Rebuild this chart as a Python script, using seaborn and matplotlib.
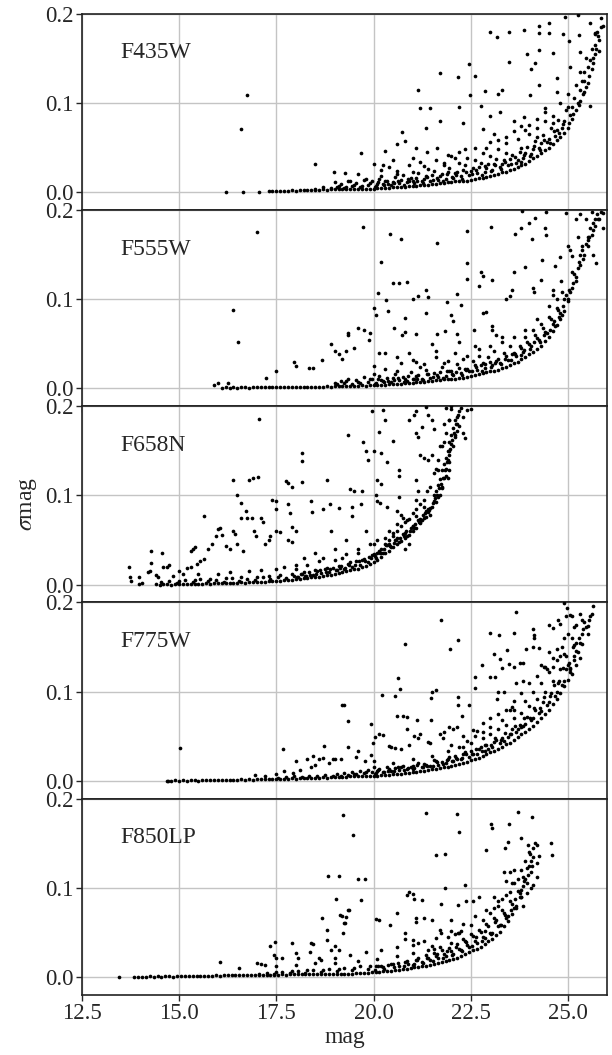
import matplotlib
matplotlib.use("Agg")
import matplotlib.pyplot as plt
import seaborn as sns
import pandas as pd

# ---------------- data ----------------
filters = ["F435W", "F555W", "F658N", "F775W", "F850LP"]
x_ticks = [12.5, 15.0, 17.5, 20.0, 22.5, 25.0]
y_ticks = [0.0, 0.1, 0.2]

f435w_points = [
    (17.3,.001),(17.4,.001),(17.5,.001),(17.6,.001),(17.7,.001),(17.8,.001),(17.9,.002),(18.0,.001),(18.1,.002),(18.2,.002),
    (18.3,.002),(18.4,.002),(18.5,.002),(18.6,.002),(18.7,.003),(18.8,.002),(18.9,.003),(19.0,.003),(19.1,.003),(19.2,.003),
    (19.3,.003),(19.4,.004),(19.5,.003),(19.6,.004),(19.7,.004),(19.8,.004),(19.9,.004),(20.0,.004),(20.1,.005),(20.2,.005),
    (20.3,.005),(20.4,.005),(20.5,.006),(20.6,.006),(20.7,.006),(20.8,.006),(20.9,.007),(21.0,.007),(21.1,.007),(21.2,.008),
    (21.3,.008),(21.4,.008),(21.5,.009),(21.6,.009),(21.7,.010),(21.8,.010),(21.9,.011),(22.0,.011),(22.1,.012),(22.2,.012),
    (22.3,.013),(22.4,.013),(22.5,.014),(22.6,.015),(22.7,.016),(22.8,.016),(22.9,.017),(23.0,.018),(23.1,.019),(23.2,.020),
    (23.3,.022),(23.4,.023),(23.5,.025),(23.6,.026),(23.7,.028),(23.8,.030),(23.9,.032),(24.0,.035),(24.1,.038),(24.2,.041),
    (24.3,.044),(24.4,.047),(24.5,.050),(24.6,.054),(24.7,.058),(24.8,.062),(24.9,.066),(25.0,.072),(25.1,.082),(25.2,.092),
    (25.3,.102),(25.4,.112),(25.5,.122),(25.6,.138),(25.7,.155),(25.8,.170),(25.9,.186),
    (18.5,.004),(18.7,.006),(18.9,.005),(19.1,.007),(19.3,.006),(19.5,.008),(19.7,.007),(19.9,.010),(20.1,.009),(20.3,.012),
    (20.5,.011),(20.7,.014),(20.9,.013),(21.1,.016),(21.3,.015),(21.5,.019),(21.7,.018),(21.9,.022),(22.1,.021),(22.3,.025),
    (22.5,.024),(22.7,.028),(22.9,.027),(23.1,.032),(23.3,.031),(23.5,.037),(23.7,.036),(23.9,.044),(24.1,.048),(24.3,.055),
    (24.5,.060),(24.7,.070),(24.9,.080),(25.1,.095),(25.3,.115),(25.5,.140),(25.7,.165),
    (19.0,.011),(19.4,.013),(19.8,.015),(20.2,.018),(20.6,.020),(21.0,.023),(21.4,.026),(21.8,.030),(22.2,.033),(22.6,.036),
    (23.0,.040),(23.4,.044),(23.8,.050),(24.2,.062),(24.6,.078),(25.0,.095),(25.4,.125),
    (24.0,.075),(24.2,.082),(24.4,.090),(24.6,.085),(24.8,.100),(25.0,.110),(25.2,.120),(25.3,.135),(25.45,.150),(25.6,.160),
    (25.7,.178),(25.85,.195),
]
f435w_band = [
    (19.05,.006),(19.15,.009),(19.25,.005),(19.35,.012),(19.45,.007),(19.55,.010),(19.65,.006),(19.75,.014),(19.85,.008),(19.95,.012),
    (20.05,.007),(20.15,.015),(20.25,.009),(20.35,.013),(20.45,.008),(20.55,.017),(20.65,.010),(20.75,.019),(20.85,.011),(20.95,.016),
    (21.05,.010),(21.15,.021),(21.25,.012),(21.35,.018),(21.45,.013),(21.55,.024),(21.65,.014),(21.75,.020),(21.85,.015),(21.95,.027),
    (22.05,.016),(22.15,.023),(22.25,.018),(22.35,.030),(22.45,.019),(22.55,.027),(22.65,.021),(22.75,.033),(22.85,.023),(22.95,.031),
    (23.05,.025),(23.15,.037),(23.25,.028),(23.35,.036),(23.45,.030),(23.55,.042),(23.65,.033),(23.75,.045),(23.85,.038),(23.95,.051),
    (24.05,.043),(24.15,.057),(24.25,.049),(24.35,.064),(24.45,.056),(24.55,.072),(24.65,.063),(24.75,.081),(24.85,.072),(24.95,.092),
    (25.05,.086),(25.15,.105),(25.25,.100),(25.35,.125),(25.45,.118),(25.55,.148),(25.65,.145),(25.75,.180),(25.8,.158),
    (20.2,.025),(20.4,.028),(20.6,.024),(20.9,.030),(21.2,.034),(21.3,.029),(21.6,.036),(21.8,.033),(22.0,.040),(22.2,.045),
    (22.4,.038),(22.6,.050),(22.8,.044),(23.0,.056),(23.2,.048),(23.4,.062),(23.6,.068),(23.8,.074),(24.0,.065),(24.2,.072),
    (24.4,.080),
    (20.025,.006),(20.275,.008),(20.525,.010),(20.775,.008),(21.025,.012),(21.275,.010),(21.525,.014),(21.775,.013),(22.025,.017),
    (22.275,.015),(22.525,.020),(22.775,.019),(23.025,.024),(23.275,.026),(23.525,.031),(23.775,.034),(24.025,.040),(24.275,.047),
    (24.525,.055),(24.775,.066),(25.025,.078),(25.275,.098),(25.525,.130),(25.775,.175),
    (20.125,.011),(20.375,.009),(20.625,.013),(20.875,.015),(21.125,.012),(21.375,.017),(21.625,.016),(21.875,.020),(22.125,.019),
    (22.375,.022),(22.625,.025),(22.875,.029),(23.125,.030),(23.375,.034),(23.625,.039),(23.875,.042),(24.125,.052),(24.375,.058),
    (24.625,.068),(24.875,.076),(25.125,.088),(25.375,.110),(25.625,.150),
]
f435w_outliers = [
    (16.2,0.0),(16.65,0.0),(16.6,0.071),(16.75,0.109),(17.05,0.0),(18.5,0.031),(18.97,0.022),(19.27,0.021),(19.6,0.02),
    (19.67,0.044),(20.0,0.032),(20.3,0.046),(20.25,0.03),(20.6,0.054),(20.72,0.067),(20.8,0.057),(21.08,0.05),(21.15,0.114),
    (21.2,0.094),(21.35,0.072),(21.45,0.094),(21.37,0.045),(21.64,0.049),(21.7,0.08),(21.71,0.134),(22.18,0.129),(22.2,0.095),
    (22.3,0.078),(22.45,0.144),(22.49,0.109),(22.6,0.13),(22.75,0.097),(22.8,0.071),(22.87,0.113),(23.0,0.18),(23.0,0.085),
    (23.17,0.174),(23.2,0.11),(23.2,0.058),(23.3,0.115),(23.47,0.179),(23.47,0.146),(23.6,0.08),(23.87,0.182),(23.87,0.084),
    (23.94,0.155),(24.02,0.109),(24.04,0.138),(24.15,0.145),(24.25,0.186),(24.24,0.178),(24.25,0.159),(24.25,0.12),(24.4,0.094),
    (24.5,0.19),(24.5,0.178),(24.6,0.156),(24.7,0.128),(24.7,0.112),(24.86,0.177),(24.92,0.196),(25.03,0.169),(25.04,0.14),
    (25.25,0.198),(25.27,0.176),(25.3,0.157),(25.4,0.135),(25.57,0.19),(25.57,0.097),(25.7,0.177),(25.72,0.16),(25.85,0.185),
    (21.9,0.042),(22.1,0.038),(22.9,0.05),(23.1,0.065),(23.4,0.055),(23.7,0.06),(23.9,0.07),(21.0,0.038),(20.5,0.036),
    (22.35,0.048),(23.25,0.09),
]

f555w_points = [
    (16.1,.000),(16.2,.001),(16.3,.000),(16.4,.001),(16.5,.000),(16.6,.001),(16.7,.001),(16.8,.000),(16.9,.001),(17.0,.001),
    (17.1,.001),(17.2,.001),(17.3,.001),(17.4,.001),(17.5,.001),(17.6,.001),(17.7,.002),(17.8,.001),(17.9,.002),(18.0,.002),
    (18.1,.002),(18.2,.002),(18.3,.002),(18.4,.002),(18.5,.002),(18.6,.002),(18.7,.002),(18.8,.003),(18.9,.002),(19.0,.003),
    (19.1,.003),(19.2,.003),(19.3,.003),(19.4,.003),(19.5,.003),(19.6,.003),(19.7,.004),(19.8,.003),(19.9,.004),(20.0,.004),
    (20.1,.004),(20.2,.004),(20.3,.004),(20.4,.005),(20.5,.005),(20.6,.005),(20.7,.005),(20.8,.006),(20.9,.006),(21.0,.006),
    (21.1,.007),(21.2,.007),(21.3,.007),(21.4,.008),(21.5,.008),(21.6,.009),(21.7,.009),(21.8,.010),(21.9,.010),(22.0,.011),
    (22.1,.011),(22.2,.012),(22.3,.012),(22.4,.013),(22.5,.014),(22.6,.015),(22.7,.016),(22.8,.017),(22.9,.018),(23.0,.019),
    (23.1,.020),(23.2,.021),(23.3,.023),(23.4,.024),(23.5,.026),(23.6,.028),(23.7,.030),(23.8,.033),(23.9,.035),(24.0,.038),
    (24.1,.041),(24.2,.044),(24.3,.048),(24.4,.053),(24.5,.058),(24.6,.064),(24.7,.071),(24.8,.078),(24.9,.087),(25.0,.098),
    (25.1,.112),(25.2,.125),(25.3,.138),(25.4,.150),(25.5,.160),(25.6,.172),(25.7,.182),(25.8,.190),(25.9,.197),
    (19.0,.006),(19.3,.008),(19.6,.007),(19.9,.010),(20.2,.009),(20.5,.012),(20.8,.011),(21.1,.014),(21.4,.016),(21.7,.018),
    (22.0,.020),(22.2,.023),(22.4,.022),(22.6,.026),(22.8,.028),(23.0,.030),(23.2,.033),(23.4,.036),(23.6,.040),(23.8,.045),
    (24.0,.050),(24.2,.056),(24.4,.063),(24.6,.072),(24.8,.085),(25.0,.100),(25.2,.120),
    (20.0,.016),(20.6,.020),(21.2,.024),(21.8,.028),(22.3,.033),(22.7,.036),(23.1,.042),(23.5,.048),(23.9,.058),(24.1,.065),
    (24.3,.072),(24.5,.080),(24.7,.090),(24.9,.100),(25.1,.130),(25.3,.150),(25.5,.170),(25.7,.190),
]
f555w_band = [
    (19.05,.005),(19.15,.008),(19.25,.006),(19.35,.011),(19.45,.005),(19.55,.009),(19.65,.006),(19.75,.013),(19.85,.007),(19.95,.011),
    (20.05,.006),(20.15,.014),(20.25,.008),(20.35,.012),(20.45,.007),(20.55,.016),(20.65,.009),(20.75,.013),(20.85,.008),(20.95,.018),
    (21.05,.010),(21.15,.015),(21.25,.011),(21.35,.021),(21.45,.012),(21.55,.017),(21.65,.013),(21.75,.024),(21.85,.014),(21.95,.019),
    (22.05,.015),(22.15,.027),(22.25,.017),(22.35,.022),(22.45,.019),(22.55,.031),(22.65,.021),(22.75,.026),(22.85,.023),(22.95,.035),
    (23.05,.026),(23.15,.031),(23.25,.029),(23.35,.040),(23.45,.032),(23.55,.038),(23.65,.036),(23.75,.047),(23.85,.041),(23.95,.052),
    (24.05,.047),(24.15,.060),(24.25,.054),(24.35,.068),(24.45,.062),(24.55,.078),(24.65,.070),(24.75,.088),(24.85,.082),(24.95,.105),
    (25.05,.108),(25.15,.128),(25.25,.135),(25.35,.155),(25.45,.162),(25.55,.180),(25.65,.185),(25.75,.195),
    (20.0,.025),(20.3,.022),(20.7,.028),(21.0,.032),(21.3,.027),(21.6,.035),(21.9,.031),(22.1,.040),(22.4,.036),(22.7,.044),
    (23.0,.048),(23.3,.052),(23.6,.058),(23.9,.066),(24.2,.078),(24.5,.092),(24.7,.100),
    (20.025,.005),(20.275,.007),(20.525,.009),(20.775,.007),(21.025,.010),(21.275,.009),(21.525,.013),(21.775,.012),(22.025,.016),
    (22.275,.015),(22.525,.019),(22.775,.020),(23.025,.024),(23.275,.027),(23.525,.032),(23.775,.037),(24.025,.044),(24.275,.052),
    (24.525,.066),(24.775,.080),(25.025,.110),(25.275,.142),(25.525,.170),(25.775,.190),
    (20.125,.010),(20.375,.008),(20.625,.012),(20.875,.014),(21.125,.011),(21.375,.016),(21.625,.015),(21.875,.019),(22.125,.018),
    (22.375,.021),(22.625,.024),(22.875,.027),(23.125,.029),(23.375,.033),(23.625,.038),(23.875,.043),(24.125,.052),(24.375,.060),
    (24.625,.075),(24.875,.092),(25.125,.118),(25.375,.145),(25.625,.178),
]
f555w_outliers = [
    (15.9,0.004),(16.0,0.006),(16.25,0.006),(16.4,0.088),(16.52,0.052),(17.0,0.175),(17.24,0.012),(17.5,0.02),(17.95,0.03),
    (18.0,0.025),(18.35,0.023),(18.45,0.023),(18.67,0.032),(18.9,0.05),(19.0,0.042),(19.1,0.038),(19.2,0.033),(19.3,0.042),
    (19.35,0.06),(19.33,0.062),(19.5,0.045),(19.6,0.068),(19.72,0.181),(19.75,0.066),(19.87,0.054),(19.9,0.062),(20.0,0.09),
    (20.05,0.082),(20.12,0.107),(20.15,0.04),(20.2,0.142),(20.3,0.04),(20.32,0.099),(20.36,0.087),(20.43,0.173),(20.5,0.118),
    (20.53,0.068),(20.6,0.035),(20.65,0.118),(20.7,0.167),(20.73,0.06),(20.8,0.079),(20.8,0.063),(20.85,0.119),(20.9,0.04),
    (21.0,0.1),(21.1,0.061),(21.1,0.03),(21.15,0.104),(21.35,0.11),(21.35,0.084),(21.4,0.102),(21.5,0.05),(21.6,0.042),
    (21.63,0.061),(21.64,0.163),(21.84,0.064),(21.88,0.097),(22.0,0.082),(22.05,0.076),(22.14,0.106),(22.14,0.061),(22.2,0.052),
    (22.24,0.093),(22.4,0.14),(22.41,0.176),(22.4,0.123),(22.57,0.066),(22.6,0.047),(22.72,0.115),(22.77,0.13),(22.8,0.126),
    (22.8,0.084),(22.9,0.086),(23.02,0.181),(23.04,0.122),(23.04,0.07),(23.05,0.065),(23.15,0.06),(23.3,0.058),(23.4,0.1),
    (23.5,0.103),(23.55,0.11),(23.61,0.13),(23.64,0.173),(23.8,0.18),(23.81,0.199),(23.88,0.136),(24.0,0.185),(24.08,0.168),
    (24.1,0.113),(24.12,0.108),(24.14,0.191),(24.3,0.122),(24.32,0.144),(24.4,0.18),(24.43,0.198),(24.42,0.172),(24.6,0.11),
    (24.62,0.105),(24.67,0.137),(24.78,0.147),(24.82,0.12),(24.85,0.108),(24.95,0.197),(25.0,0.16),(25.05,0.155),(25.1,0.148),
    (25.2,0.19),(25.25,0.17),(25.3,0.195),(25.35,0.16),(25.45,0.19),(25.5,0.166),(25.6,0.198),(25.65,0.15),(25.72,0.141),
    (25.85,0.198),(25.9,0.18),
]

f658n_points = [
    (14.4,.001),(14.5,.000),(14.6,.001),(14.7,.001),(14.8,.000),(14.9,.001),(15.0,.001),(15.1,.001),(15.2,.001),(15.3,.001),
    (15.4,.001),(15.5,.001),(15.6,.001),(15.7,.002),(15.8,.001),(15.9,.002),(16.0,.002),(16.1,.002),(16.2,.002),(16.3,.002),
    (16.4,.002),(16.5,.002),(16.6,.003),(16.7,.002),(16.8,.003),(16.9,.003),(17.0,.003),(17.1,.003),(17.2,.003),(17.3,.004),
    (17.4,.004),(17.5,.004),(17.6,.004),(17.7,.005),(17.8,.005),(17.9,.005),(18.0,.006),(18.1,.006),(18.2,.007),(18.3,.007),
    (18.4,.008),(18.5,.008),(18.6,.009),(18.7,.010),(18.8,.011),(18.9,.011),(19.0,.012),(19.1,.013),(19.2,.014),(19.3,.015),
    (19.4,.016),(19.5,.017),(19.6,.018),(19.7,.020),(19.8,.021),(19.9,.023),(20.0,.025),(20.1,.028),(20.2,.031),(20.3,.035),
    (20.4,.038),(20.5,.042),(20.6,.045),(20.7,.049),(20.8,.052),(20.9,.056),(21.0,.060),(21.1,.064),(21.2,.069),(21.3,.075),
    (21.4,.081),(21.5,.087),(21.6,.093),(21.7,.100),(21.75,.110),(21.8,.120),(21.85,.130),(21.9,.140),(21.95,.150),(22.0,.158),
    (22.1,.168),(22.2,.178),(22.3,.188),(22.4,.196),
    (15.0,.004),(15.4,.005),(15.8,.006),(16.2,.007),(16.6,.008),(17.0,.008),(17.3,.010),(17.6,.011),(17.9,.012),(18.2,.014),
    (18.5,.016),(18.8,.019),(19.1,.021),(19.4,.025),(19.7,.028),(20.0,.034),(20.2,.040),(20.4,.046),(20.6,.052),(20.8,.058),
    (21.0,.066),(21.2,.074),(21.4,.085),(21.55,.100),(21.65,.112),(21.75,.128),(21.85,.142),(21.95,.160),(22.05,.176),(22.15,.188),
    (16.0,.012),(16.8,.015),(17.5,.018),(18.0,.022),(18.6,.026),(19.2,.030),(19.6,.036),(20.0,.045),(20.3,.052),(20.5,.058),
    (20.7,.066),(20.9,.074),(21.1,.085),(21.3,.095),(21.45,.110),(21.55,.125),(21.65,.140),(21.75,.155),(21.85,.170),(21.95,.185),
    (22.0,.197),
]
f658n_band = [
    (14.55,.003),(14.75,.004),(14.95,.002),(15.15,.005),(15.35,.003),(15.55,.006),(15.75,.004),(15.95,.005),(16.15,.003),(16.35,.007),
    (16.55,.004),(16.75,.006),(16.95,.005),(17.15,.008),(17.35,.006),(17.55,.009),(17.75,.007),(17.95,.010),
    (18.05,.009),(18.15,.012),(18.25,.010),(18.35,.014),(18.45,.011),(18.55,.015),(18.65,.013),(18.75,.017),(18.85,.014),(18.95,.019),
    (19.05,.016),(19.15,.021),(19.25,.018),(19.35,.023),(19.45,.020),(19.55,.026),(19.65,.022),(19.75,.029),(19.85,.025),(19.95,.033),
    (20.05,.030),(20.15,.038),(20.25,.036),(20.35,.044),(20.45,.042),(20.55,.050),(20.65,.048),(20.75,.057),(20.85,.055),(20.95,.064),
    (21.05,.063),(21.15,.072),(21.25,.073),(21.35,.082),(21.45,.086),(21.55,.094),(21.6,.105),(21.7,.118),(21.8,.135),(21.9,.150),
    (22.0,.168),(22.1,.185),(22.2,.195),(21.65,.098),(21.75,.108),(21.85,.122),(21.95,.138),(22.05,.155),(22.15,.172),
    (18.0,.018),(18.3,.022),(18.7,.030),(19.0,.028),(19.3,.034),(19.6,.040),(19.9,.045),(20.1,.050),(20.4,.060),(20.6,.068),
    (20.8,.070),(21.0,.080),(15.5,.012),(16.3,.014),(17.1,.016),(17.7,.020),
    (18.025,.008),(18.275,.010),(18.525,.012),(18.775,.014),(19.025,.016),(19.275,.019),(19.525,.022),(19.775,.026),(19.925,.030),
    (20.025,.032),(20.175,.036),(20.275,.040),(20.425,.043),(20.525,.047),(20.675,.052),(20.775,.054),(20.925,.060),(21.025,.066),
    (21.175,.070),(21.275,.078),(21.425,.084),(21.525,.092),(21.625,.100),(21.725,.113),(21.825,.128),(21.925,.145),(22.025,.162),
    (22.125,.180),
    (18.125,.012),(18.375,.011),(18.625,.016),(18.875,.017),(19.125,.019),(19.375,.022),(19.625,.027),(19.875,.031),(20.075,.036),
    (20.325,.044),(20.575,.050),(20.825,.060),(21.075,.068),(21.325,.080),(21.575,.097),(21.675,.108),(21.775,.120),(21.875,.138),
    (21.975,.152),(22.075,.170),(22.175,.190),
]
f658n_outliers = [
    (13.72,0.02),(13.74,0.008),(13.76,0.004),(13.96,0.009),(13.98,0.001),(14.04,0.002),(14.2,0.014),(14.25,0.015),(14.27,0.024),
    (14.28,0.038),(14.4,0.011),(14.45,0.009),(14.56,0.036),(14.6,0.02),(14.7,0.02),(14.75,0.022),(14.85,0.01),(15.0,0.015),
    (15.1,0.012),(15.2,0.019),(15.3,0.038),(15.35,0.04),(15.4,0.042),(15.3,0.02),(15.45,0.023),(15.55,0.027),(15.65,0.029),
    (15.64,0.077),(15.75,0.04),(15.85,0.046),(15.95,0.055),(16.0,0.062),(16.05,0.064),(16.1,0.056),(16.2,0.043),(16.3,0.04),
    (16.38,0.117),(16.4,0.06),(16.45,0.057),(16.5,0.1),(16.5,0.045),(16.6,0.092),(16.6,0.075),(16.65,0.038),(16.72,0.083),
    (16.75,0.075),(16.8,0.117),(16.9,0.119),(16.87,0.075),(16.93,0.06),(16.97,0.055),(17.04,0.121),(17.05,0.186),(17.1,0.075),
    (17.15,0.07),(17.2,0.045),(17.3,0.05),(17.35,0.055),(17.4,0.095),(17.5,0.094),(17.5,0.085),(17.5,0.06),(17.6,0.059),
    (17.75,0.116),(17.8,0.114),(17.9,0.11),(17.8,0.09),(17.85,0.08),(17.9,0.065),(18.0,0.06),(17.8,0.05),(17.9,0.048),
    (18.15,0.139),(18.15,0.115),(18.17,0.148),(18.4,0.094),(18.42,0.081),(18.7,0.085),(18.8,0.117),(18.88,0.09),(19.1,0.086),
    (19.33,0.168),(19.4,0.107),(19.5,0.105),(19.44,0.087),(19.44,0.077),(19.68,0.09),(19.7,0.105),(19.74,0.16),(19.8,0.15),
    (19.85,0.14),(19.95,0.195),(20.0,0.15),(20.05,0.1),(20.1,0.094),(20.1,0.117),(20.14,0.171),(20.2,0.148),(20.17,0.092),
    (20.2,0.113),(20.25,0.196),(20.3,0.185),(20.34,0.087),(20.35,0.138),(20.5,0.161),(20.6,0.083),(20.65,0.128),(20.65,0.122),
    (20.65,0.098),(20.7,0.078),(20.75,0.075),(20.85,0.072),(20.9,0.184),(21.05,0.19),(21.1,0.195),(21.1,0.17),(21.15,0.165),
    (21.1,0.117),(21.15,0.105),(21.1,0.095),(21.2,0.09),(21.3,0.087),(21.2,0.145),(21.3,0.142),(21.4,0.14),(21.5,0.145),
    (21.25,0.177),(21.35,0.199),(21.4,0.19),(21.5,0.185),(21.55,0.175),(21.6,0.13),(21.65,0.128),(21.7,0.155),(21.8,0.16),
    (21.8,0.18),(21.85,0.198),(21.95,0.185),(22.0,0.2),(22.1,0.165),(22.15,0.18),(22.25,0.198),(22.3,0.17),(22.35,0.164),
    (22.5,0.197),(21.9,0.12),(21.95,0.128),(21.37,0.105),(21.35,0.076),(21.45,0.078),(21.1,0.077),(21.2,0.07),(20.2,0.035),
    (20.3,0.045),(20.4,0.05),(20.5,0.055),(20.6,0.06),(20.8,0.04),(20.9,0.045),(19.0,0.04),(18.5,0.035),(19.3,0.05),
    (19.8,0.06),(18.2,0.03),(18.9,0.06),
]

f775w_points = [
    (14.7,.000),(14.8,.000),(14.9,.001),(15.0,.000),(15.1,.001),(15.2,.000),(15.3,.001),(15.4,.001),(15.5,.000),(15.6,.001),
    (15.7,.001),(15.8,.001),(15.9,.001),(16.0,.001),(16.1,.001),(16.2,.001),(16.3,.001),(16.4,.001),(16.5,.001),(16.6,.002),
    (16.7,.001),(16.8,.002),(16.9,.001),(17.0,.002),(17.1,.002),(17.2,.002),(17.3,.002),(17.4,.002),(17.5,.002),(17.6,.002),
    (17.7,.002),(17.8,.002),(17.9,.003),(18.0,.002),(18.1,.003),(18.2,.003),(18.3,.003),(18.4,.003),(18.5,.003),(18.6,.003),
    (18.7,.004),(18.8,.003),(18.9,.004),(19.0,.004),(19.1,.004),(19.2,.004),(19.3,.004),(19.4,.005),(19.5,.005),(19.6,.005),
    (19.7,.005),(19.8,.006),(19.9,.006),(20.0,.006),(20.1,.006),(20.2,.007),(20.3,.007),(20.4,.007),(20.5,.008),(20.6,.008),
    (20.7,.008),(20.8,.009),(20.9,.009),(21.0,.010),(21.1,.010),(21.2,.011),(21.3,.011),(21.4,.012),(21.5,.013),(21.6,.013),
    (21.7,.014),(21.8,.015),(21.9,.016),(22.0,.017),(22.1,.018),(22.2,.019),(22.3,.020),(22.4,.021),(22.5,.023),(22.6,.024),
    (22.7,.026),(22.8,.028),(22.9,.030),(23.0,.032),(23.1,.034),(23.2,.036),(23.3,.038),(23.4,.041),(23.5,.043),(23.6,.046),
    (23.7,.049),(23.8,.052),(23.9,.055),(24.0,.058),(24.1,.062),(24.2,.066),(24.3,.070),(24.4,.075),(24.5,.080),(24.6,.086),
    (24.7,.092),(24.8,.099),(24.9,.106),(25.0,.113),(25.1,.120),(25.2,.130),
    (19.5,.008),(19.8,.010),(20.1,.011),(20.4,.013),(20.7,.015),(21.0,.017),(21.3,.019),(21.6,.022),(21.9,.025),(22.1,.028),
    (22.3,.030),(22.5,.033),(22.7,.036),(22.9,.040),(23.1,.044),(23.3,.048),(23.5,.053),(23.7,.058),(23.9,.064),(24.1,.070),
    (24.3,.078),(24.5,.088),(24.7,.100),(24.9,.112),(25.05,.125),(25.15,.140),(25.2,.155),
    (20.0,.016),(20.5,.020),(21.0,.024),(21.5,.028),(21.9,.034),(22.2,.038),(22.5,.043),(22.8,.048),(23.0,.052),(23.2,.058),
    (23.4,.063),(23.6,.070),(23.8,.076),(24.0,.084),(24.2,.092),(24.4,.100),(24.6,.112),(24.8,.125),(24.95,.140),(25.1,.160),
    (25.2,.175),
    (22.6,.050),(23.0,.060),(23.3,.068),(23.6,.080),(23.9,.090),(24.1,.100),(24.3,.110),(24.5,.122),(24.7,.135),(24.85,.150),
    (25.0,.165),(25.1,.185),
]
f775w_band = [
    (17.55,.003),(17.75,.004),(17.95,.005),(18.15,.004),(18.35,.006),(18.55,.005),(18.75,.007),(18.95,.006),(19.05,.008),(19.15,.006),
    (19.25,.009),(19.35,.007),(19.45,.010),(19.55,.008),(19.65,.011),(19.75,.009),(19.85,.012),(19.95,.010),
    (20.05,.009),(20.15,.013),(20.25,.010),(20.35,.015),(20.45,.011),(20.55,.014),(20.65,.012),(20.75,.017),(20.85,.013),(20.95,.016),
    (21.05,.014),(21.15,.020),(21.25,.015),(21.35,.018),(21.45,.017),(21.55,.023),(21.65,.018),(21.75,.021),(21.85,.020),(21.95,.027),
    (22.05,.022),(22.15,.025),(22.25,.024),(22.35,.032),(22.45,.027),(22.55,.030),(22.65,.030),(22.75,.038),(22.85,.034),(22.95,.036),
    (23.05,.038),(23.15,.046),(23.25,.043),(23.35,.045),(23.45,.049),(23.55,.058),(23.65,.055),(23.75,.063),(23.85,.061),(23.95,.072),
    (24.05,.068),(24.15,.080),(24.25,.076),(24.35,.088),(24.45,.085),(24.55,.098),(24.65,.095),(24.75,.110),(24.85,.108),(24.95,.125),
    (25.05,.122),(25.15,.135),(25.25,.145),(25.35,.165),(25.45,.172),(25.55,.185),(25.3,.155),(25.4,.178),(25.5,.165),
    (22.0,.040),(22.4,.045),(22.8,.055),(23.0,.070),(23.2,.075),(23.4,.080),(23.6,.090),(23.8,.098),(24.0,.110),(24.2,.118),
    (24.4,.128),(24.6,.128),(24.8,.140),(24.9,.160),
    (20.025,.008),(20.275,.010),(20.525,.011),(20.775,.012),(21.025,.013),(21.275,.015),(21.525,.017),(21.775,.019),(22.025,.022),
    (22.275,.026),(22.525,.030),(22.775,.034),(23.025,.040),(23.275,.046),(23.525,.052),(23.775,.060),(24.025,.070),(24.275,.082),
    (24.525,.095),(24.775,.112),(25.025,.132),(25.275,.160),(25.525,.180),
    (20.125,.012),(20.375,.011),(20.625,.015),(20.875,.014),(21.125,.018),(21.375,.017),(21.625,.021),(21.875,.023),(22.125,.026),
    (22.375,.030),(22.625,.036),(22.875,.040),(23.125,.048),(23.375,.054),(23.625,.062),(23.875,.070),(24.125,.082),(24.375,.094),
    (24.625,.108),(24.875,.126),(25.125,.150),(25.375,.170),
]
f775w_outliers = [
    (14.73,0.0),(15.03,0.037),(16.96,0.007),(17.2,0.006),(17.5,0.008),(17.66,0.036),(17.7,0.011),(17.94,0.009),(18.0,0.022),
    (18.1,0.012),(18.3,0.025),(18.4,0.016),(18.45,0.028),(18.5,0.018),(18.6,0.025),(18.7,0.026),(18.72,0.039),(18.85,0.02),
    (18.95,0.025),(19.0,0.024),(19.15,0.025),(19.2,0.085),(19.23,0.085),(19.35,0.067),(19.35,0.038),(19.59,0.033),(19.55,0.027),
    (19.78,0.022),(19.94,0.064),(19.94,0.029),(19.98,0.043),(20.0,0.022),(20.04,0.049),(20.15,0.053),(20.21,0.096),(20.25,0.051),
    (20.4,0.039),(20.45,0.038),(20.54,0.095),(20.55,0.037),(20.6,0.073),(20.64,0.115),(20.68,0.103),(20.7,0.036),(20.75,0.073),
    (20.81,0.154),(20.85,0.058),(20.85,0.072),(20.9,0.04),(21.05,0.05),(21.11,0.068),(21.15,0.048),(21.2,0.052),(21.4,0.044),
    (21.45,0.042),(21.47,0.068),(21.47,0.093),(21.5,0.1),(21.6,0.102),(21.7,0.053),(21.74,0.18),(21.78,0.048),(21.8,0.055),
    (21.95,0.06),(21.97,0.148),(22.05,0.058),(22.14,0.06),(22.16,0.158),(22.18,0.094),(22.18,0.085),(22.27,0.073),(22.3,0.05),
    (22.3,0.038),(22.44,0.085),(22.55,0.057),(22.6,0.116),(22.6,0.104),(22.65,0.056),(22.78,0.13),(22.82,0.065),(23.0,0.166),
    (23.0,0.117),(23.1,0.142),(23.12,0.117),(23.17,0.092),(23.2,0.1),(23.21,0.163),(23.25,0.137),(23.3,0.127),(23.35,0.1),
    (23.43,0.147),(23.47,0.131),(23.5,0.08),(23.55,0.083),(23.61,0.166),(23.62,0.128),(23.66,0.189),(23.66,0.11),(23.75,0.132),
    (23.84,0.132),(23.84,0.112),(23.91,0.148),(24.1,0.17),(24.12,0.164),(24.11,0.16),(24.1,0.15),(24.25,0.149),(24.3,0.13),
    (24.38,0.128),(24.45,0.125),(24.5,0.175),(24.6,0.171),(24.75,0.18),(24.8,0.176),(24.95,0.185),(24.98,0.194),(24.88,0.199),
    (25.05,0.186),(25.15,0.172),(25.3,0.187),(25.35,0.18),(25.5,0.174),(25.6,0.187),(25.63,0.196),(24.5,0.145),(24.6,0.138),
    (24.7,0.148),(24.88,0.142),(25.0,0.13),(25.05,0.127),(25.15,0.152),(25.2,0.146),(25.3,0.138),(25.35,0.153),
]

f850lp_points = [
    (13.85,.000),(13.95,.000),(14.05,.000),(14.15,.000),(14.25,.001),(14.35,.000),(14.45,.001),(14.55,.000),(14.65,.001),
    (14.75,.001),(14.85,.000),(14.95,.001),(15.05,.001),(15.15,.001),(15.25,.001),(15.35,.001),(15.45,.001),(15.55,.001),
    (15.65,.001),(15.75,.001),(15.85,.001),(15.95,.002),(16.05,.001),(16.15,.002),(16.25,.002),(16.35,.002),(16.45,.002),
    (16.55,.002),(16.65,.002),(16.75,.002),(16.85,.002),(16.95,.002),(17.05,.002),(17.15,.002),(17.25,.002),(17.35,.002),
    (17.45,.002),(17.55,.002),(17.65,.003),(17.75,.002),(17.85,.003),(17.95,.003),(18.05,.003),(18.15,.003),(18.25,.003),
    (18.35,.003),(18.45,.003),(18.55,.003),(18.65,.003),(18.75,.003),(18.85,.004),(18.95,.003),(19.05,.004),(19.15,.004),
    (19.25,.004),(19.35,.004),(19.45,.004),(19.55,.005),(19.65,.005),(19.75,.005),(19.85,.005),(19.95,.006),(20.05,.006),
    (20.15,.006),(20.25,.007),(20.35,.007),(20.45,.007),(20.55,.008),(20.65,.008),(20.75,.009),(20.85,.009),(20.95,.010),
    (21.05,.011),(21.15,.011),(21.25,.012),(21.35,.013),(21.45,.014),(21.55,.015),(21.65,.016),(21.75,.017),(21.85,.018),
    (21.95,.019),(22.05,.020),(22.15,.022),(22.25,.024),(22.35,.026),(22.45,.028),(22.55,.030),(22.65,.032),(22.75,.034),
    (22.85,.037),(22.95,.040),(23.05,.043),(23.15,.047),(23.25,.051),(23.35,.057),(23.45,.063),(23.55,.071),(23.65,.080),
    (23.75,.090),(23.85,.102),
    (17.5,.006),(17.9,.007),(18.3,.008),(18.7,.008),(19.1,.009),(19.5,.010),(19.9,.012),(20.2,.013),(20.5,.015),(20.8,.017),
    (21.1,.019),(21.4,.021),(21.6,.024),(21.8,.026),(22.0,.029),(22.2,.032),(22.4,.036),(22.6,.040),(22.8,.045),(23.0,.050),
    (23.2,.057),(23.4,.066),(23.6,.077),(23.8,.090),(23.95,.105),(24.05,.118),
    (19.0,.016),(19.6,.018),(20.1,.020),(20.6,.024),(21.0,.027),(21.4,.030),(21.7,.034),(22.0,.038),(22.3,.043),(22.5,.048),
    (22.7,.053),(22.9,.059),(23.1,.066),(23.3,.075),(23.5,.085),(23.7,.097),(23.9,.110),(24.0,.125),(24.1,.135),
    (21.9,.045),(22.2,.050),(22.5,.058),(22.8,.064),(23.0,.072),(23.2,.080),(23.4,.092),(23.6,.105),(23.8,.120),(23.9,.130),
    (24.0,.140),(24.15,.150),
]
f850lp_band = [
    (17.05,.004),(17.25,.005),(17.45,.004),(17.65,.006),(17.85,.005),(18.05,.007),(18.25,.005),(18.45,.008),(18.65,.006),(18.85,.009),
    (19.05,.007),(19.25,.010),(19.45,.008),(19.65,.012),(19.85,.009),(20.05,.013),(20.25,.011),(20.45,.015),(20.65,.012),(20.85,.018),
    (21.05,.015),(21.15,.022),(21.25,.017),(21.35,.025),(21.45,.019),(21.55,.027),(21.65,.021),(21.75,.030),(21.85,.024),(21.95,.033),
    (22.05,.026),(22.15,.037),(22.25,.030),(22.35,.041),(22.45,.034),(22.55,.046),(22.65,.038),(22.75,.051),(22.85,.044),(22.95,.057),
    (23.05,.050),(23.15,.064),(23.25,.058),(23.35,.072),(23.45,.068),(23.55,.082),(23.65,.078),(23.75,.094),(23.85,.112),(23.95,.122),
    (24.05,.130),(24.1,.145),(24.2,.128),
    (17.5,.012),(18.0,.014),(18.5,.016),(19.0,.022),(19.4,.025),(19.8,.028),(20.2,.030),(20.6,.034),(21.0,.036),(21.3,.040),
    (21.6,.044),(22.0,.052),(22.3,.060),(22.6,.068),(22.9,.075),(23.1,.078),(23.3,.088),(23.5,.095),(23.7,.110),
    (20.025,.008),(20.275,.009),(20.525,.011),(20.775,.012),(21.025,.014),(21.275,.016),(21.525,.018),(21.775,.021),(22.025,.025),
    (22.275,.029),(22.525,.035),(22.775,.041),(23.025,.048),(23.275,.058),(23.525,.075),(23.775,.098),(23.975,.115),
    (20.125,.012),(20.375,.014),(20.625,.016),(20.875,.015),(21.125,.019),(21.375,.022),(21.625,.026),(21.875,.029),(22.125,.034),
    (22.375,.039),(22.625,.045),(22.875,.052),(23.125,.062),(23.375,.070),(23.625,.088),(23.875,.108),(24.075,.125),
]
f850lp_outliers = [
    (13.47,0.0),(16.05,0.017),(16.55,0.01),(17.0,0.016),(17.1,0.015),(17.2,0.014),(17.34,0.035),(17.45,0.025),(17.47,0.039),
    (17.48,0.022),(17.64,0.022),(17.9,0.038),(18.0,0.027),(18.05,0.021),(18.37,0.028),(18.4,0.038),(18.45,0.037),(18.6,0.021),
    (18.65,0.019),(18.68,0.066),(18.8,0.042),(18.8,0.053),(18.84,0.113),(18.9,0.03),(19.0,0.035),(19.04,0.088),(19.1,0.03),
    (19.12,0.113),(19.14,0.07),(19.2,0.068),(19.22,0.182),(19.24,0.061),(19.3,0.067),(19.27,0.061),(19.21,0.05),(19.34,0.075),
    (19.38,0.075),(19.46,0.159),(19.6,0.11),(19.68,0.086),(19.78,0.11),(20.05,0.065),(20.15,0.064),(20.42,0.058),(20.6,0.072),
    (20.8,0.05),(20.8,0.043),(20.85,0.092),(20.9,0.095),(21.0,0.093),(21.0,0.042),(21.05,0.088),(21.1,0.066),(21.1,0.062),
    (21.15,0.038),(21.25,0.086),(21.3,0.066),(21.35,0.184),(21.5,0.064),(21.5,0.035),(21.55,0.032),(21.6,0.137),(21.7,0.053),
    (21.72,0.049),(21.73,0.082),(21.84,0.138),(21.84,0.1),(22.0,0.064),(22.1,0.048),(22.15,0.183),(22.16,0.081),(22.18,0.05),
    (22.2,0.163),(22.25,0.052),(22.36,0.103),(22.38,0.085),(22.55,0.085),(22.7,0.09),(22.88,0.142),(23.02,0.172),(23.03,0.167),
    (23.1,0.09),(23.2,0.085),(23.35,0.118),(23.38,0.145),(23.4,0.108),(23.45,0.152),(23.47,0.172),(23.5,0.118),(23.55,0.105),
    (23.6,0.12),(23.7,0.185),(23.79,0.156),(23.8,0.09),(23.85,0.08),(23.95,0.094),(23.98,0.148),(24.02,0.138),(24.05,0.1),
    (24.08,0.18),(24.1,0.103),(24.2,0.148),(24.2,0.112),(24.25,0.136),(24.56,0.15),(24.58,0.137),
]

panel_points = [
    f435w_points + f435w_band + f435w_outliers,
    f555w_points + f555w_band + f555w_outliers,
    f658n_points + f658n_band + f658n_outliers,
    f775w_points + f775w_band + f775w_outliers,
    f850lp_points + f850lp_band + f850lp_outliers,
]

# ---------------- plotting ----------------
sns.set_style("ticks")
plt.rcParams["font.family"] = ["Liberation Serif", "DejaVu Serif"]
plt.rcParams["mathtext.fontset"] = "stix"
plt.rcParams["axes.edgecolor"] = "#222222"

FS = 16.5

fig, axes = plt.subplots(5, 1, figsize=(6.12, 10.55), dpi=100, sharex=True)
fig.subplots_adjust(left=0.1335, right=0.992, top=0.987, bottom=0.0569, hspace=0)

for ax, name, pts in zip(axes, filters, panel_points):
    df = pd.DataFrame(pts, columns=["mag", "err"])
    sns.scatterplot(data=df, x="mag", y="err", ax=ax, color="black",
                    s=7, linewidth=0, marker="o", legend=False, zorder=3)
    ax.set_xlim(12.5, 26.0)
    ax.set_ylim(-0.02, 0.2)
    ax.set_xticks(x_ticks)
    ax.set_yticks(y_ticks)
    ax.grid(True, color="#c4c4c4", linewidth=1.0)
    ax.set_axisbelow(True)
    for sp in ax.spines.values():
        sp.set_linewidth(1.2)
        sp.set_visible(True)
    ax.tick_params(axis="both", labelsize=FS, direction="out", length=4, width=1, pad=2)
    ax.set_xlabel("")
    ax.set_ylabel("")
    ax.text(0.073, 0.80, name, transform=ax.transAxes, fontsize=FS + 0.5,
            ha="left", va="center")

axes[-1].set_xlabel("mag", fontsize=FS + 0.5, labelpad=2)
axes[2].set_ylabel(r"$\sigma$mag", fontsize=FS + 0.5, labelpad=4)

fig.savefig("out.png", dpi=100)
